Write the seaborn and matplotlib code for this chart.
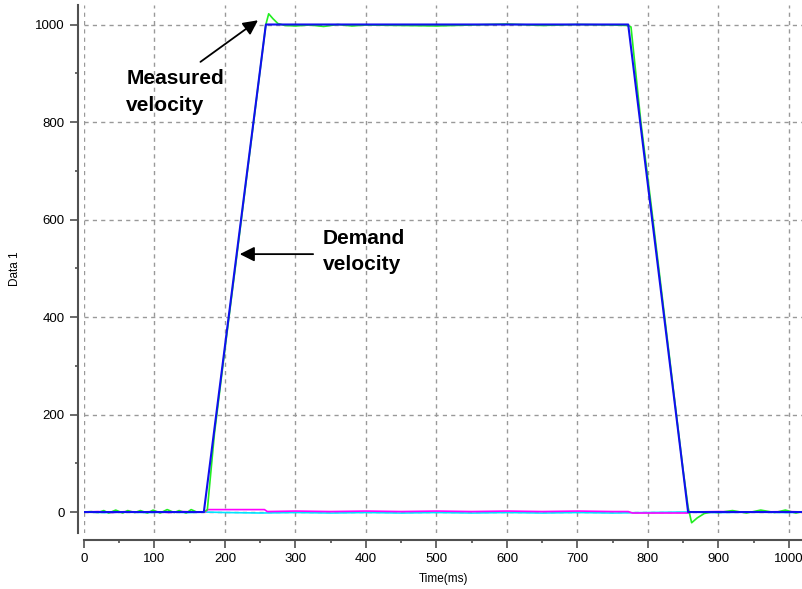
import numpy as np
import pandas as pd
import seaborn as sns
import matplotlib.pyplot as plt

# demand velocity (blue trapezoid)
demand_t = [0, 170, 258, 772, 857, 1020]
demand_v = [0, 0, 1000, 1000, 0, 0]

# measured velocity (green)
measured_t = [0, 10, 20, 28, 35, 45, 55, 62, 72, 80, 90, 98, 108, 118, 128, 135, 145, 152, 160,
              170, 175, 185, 200, 215, 230, 245, 258, 262, 268, 275, 285, 300, 320, 340, 360, 380,
              400, 450, 500, 550, 600, 650, 700, 750, 770, 776, 790, 805, 820, 835, 850, 857,
              862, 870, 880, 890, 900, 920, 940, 960, 980, 995, 1010, 1020]
measured_v = [0, 1, -1, 3, -2, 4, -2, 3, -1, 3, -2, 4, -2, 5, -1, 3, -2, 5, 0,
              0, 5, 160, 335, 505, 678, 850, 1000, 1022, 1012, 1002, 998, 997, 999, 996, 1000, 997,
              999, 998, 997, 999, 1001, 998, 1000, 999, 998, 995, 800, 625, 445, 265, 85, 10,
              -22, -12, -3, 0, -1, 3, -2, 4, -1, 4, -2, 1]

# following error trace (magenta)
error_t = [0, 20, 40, 60, 80, 100, 120, 140, 160, 172, 176, 200, 230, 256, 260, 300, 350, 400,
           450, 500, 550, 600, 650, 700, 750, 772, 778, 800, 830, 857, 862, 900, 950, 1000, 1020]
error_v = [0, 1, -1, 1, 0, 1, -1, 1, 0, 0, 5, 5, 5, 5, 1, 2, 1, 2, 1, 2, 1, 2, 1, 2, 1, 1,
           -2, -2, -2, -2, 0, 1, 0, 1, 0]

# current trace (cyan)
current_t = [0, 30, 60, 90, 120, 150, 172, 200, 250, 300, 350, 400, 450, 500, 550, 600, 650,
             700, 750, 800, 850, 900, 950, 1000, 1020]
current_v = [0, -1, 0, -1, 0, -1, 0, -1, -2, -1, -2, -1, -2, -1, -2, -1, -2, -1, -2, -1, 0,
             -1, 0, -1, 0]

sns.set_style("white")
plt.rcParams['font.family'] = ['Liberation Sans', 'DejaVu Sans']

fig = plt.figure(figsize=(8.03, 5.89), dpi=100)
ax = fig.add_axes([84 / 803, 56 / 589, 719 / 803, 528 / 589])

sns.lineplot(x=current_t, y=current_v, ax=ax, color='#00e5ff', lw=1.2)
sns.lineplot(x=error_t, y=error_v, ax=ax, color='#ff00ff', lw=1.2)
sns.lineplot(x=measured_t, y=measured_v, ax=ax, color='#22ee22', lw=1.2)
sns.lineplot(x=demand_t, y=demand_v, ax=ax, color='#1010ee', lw=1.5)

ax.set_xlim(0, 1020)
ax.set_ylim(-43, 1040)
ax.set_xticks(range(0, 1001, 100))
ax.set_xticks(range(0, 1001, 50), minor=True)
ax.set_yticks(range(0, 1001, 200))
ax.set_yticks(range(0, 1001, 100), minor=True)

ax.grid(True, which='major', linestyle=(0, (3, 3)), color='#999999', lw=1)
sns.despine(ax=ax, offset={'left': 4.3, 'bottom': 5})
for s in ['left', 'bottom']:
    ax.spines[s].set_color('#505050')
    ax.spines[s].set_linewidth(1.5)
ax.tick_params(which='major', direction='out', length=5.5, width=1.2, color='#505050',
               labelsize=9.5, labelcolor='black', pad=4, left=True, bottom=True)
ax.tick_params(which='minor', direction='out', length=2.5, width=1.2, color='#505050',
               left=True, bottom=True)

ax.set_xlabel('Time(ms)', fontsize=8.5, labelpad=6, color='black')
ax.set_ylabel('Data 1', fontsize=8.5, labelpad=10, color='black')

# annotations
ax.text(60, 908, 'Measured\nvelocity', ha='left', va='top', fontsize=15,
        fontweight='bold', linespacing=1.5, color='black')
ax.annotate('', xy=(250, 1012), xytext=(162, 920),
            arrowprops=dict(arrowstyle='-|>', color='black', lw=1.3, mutation_scale=22))
ax.text(339, 581, 'Demand\nvelocity', ha='left', va='top', fontsize=15,
        fontweight='bold', linespacing=1.5, color='black')
ax.annotate('', xy=(217, 529), xytext=(329, 529),
            arrowprops=dict(arrowstyle='-|>', color='black', lw=1.3, mutation_scale=22))

fig.savefig('out.png', dpi=100)
